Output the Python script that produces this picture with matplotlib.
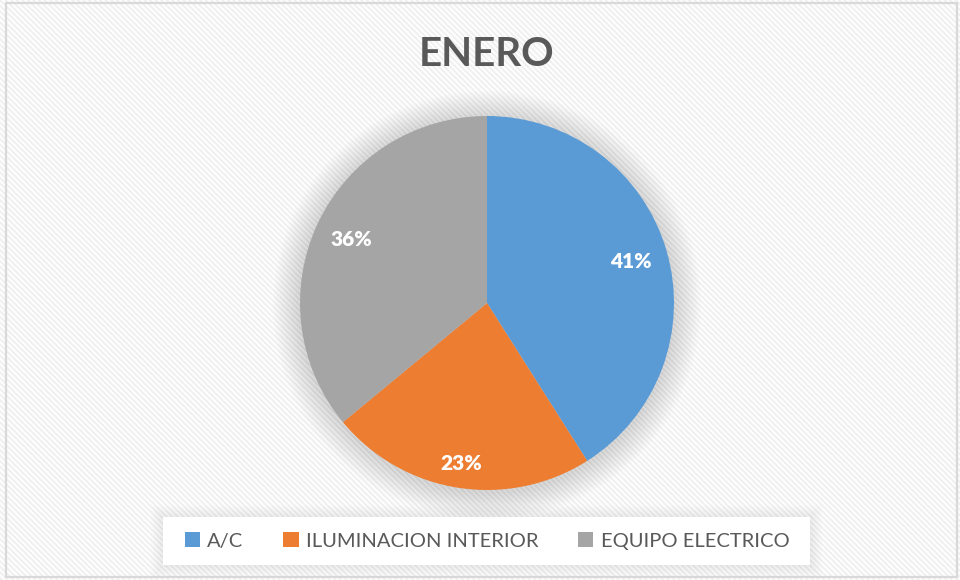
import matplotlib.pyplot as plt
import numpy as np
from matplotlib.patches import Patch, Rectangle, Circle

categories = ["A/C", "ILUMINACION INTERIOR", "EQUIPO ELECTRICO"]
values = [41, 23, 36]
colors = ["#5b9bd5", "#ed7d31", "#a5a5a5"]
title = "ENERO"

plt.rcParams['font.family'] = ['Lato', 'DejaVu Sans']
plt.rcParams['hatch.linewidth'] = 1.5

W, H = 960, 580
fig = plt.figure(figsize=(W / 100, H / 100), dpi=100)
fig.patch.set_facecolor('white')

# background stripes + frame
fig.patches.append(Rectangle((0, 0), 1, 1, transform=fig.transFigure,
                             facecolor='white', edgecolor='#f0f0f0', lw=0,
                             hatch='\\' * 6, zorder=-3))
fig.patches.append(Rectangle((6 / W, 1 - 577 / H), 951 / W, 574 / H, transform=fig.transFigure,
                             facecolor='none', edgecolor='#d9d9d9', lw=1.6, zorder=-2))

# legend box with soft shadow
lx0, ly0, lx1, ly1 = 163, 517, 810, 565
for k in range(8):
    pad = (8 - k) * 1.5
    fig.patches.append(Rectangle(((lx0 - pad) / W, 1 - (ly1 + pad) / H),
                                 (lx1 - lx0 + 2 * pad) / W, (ly1 - ly0 + 2 * pad) / H,
                                 transform=fig.transFigure, facecolor='black', alpha=0.008,
                                 edgecolor='none', zorder=-1))
fig.patches.append(Rectangle((lx0 / W, 1 - ly1 / H), (lx1 - lx0) / W, (ly1 - ly0) / H,
                             transform=fig.transFigure, facecolor='white',
                             edgecolor='none', zorder=-1))

# pie axes
cx, cy, r = 487, 303, 187
ax = fig.add_axes([(cx - r) / W, 1 - (cy + r) / H, 2 * r / W, 2 * r / H])

# soft shadow behind the pie
for k in range(12):
    ax.add_patch(Circle((0.0, -0.01), 1.0 + 0.012 * (12 - k), color='black',
                        alpha=0.012, lw=0, zorder=0, clip_on=False))

wedges, texts, autotexts = ax.pie(values, colors=colors, startangle=90, counterclock=False,
                                  radius=1, autopct='%d%%', pctdistance=0.8,
                                  wedgeprops=dict(linewidth=0))
for w, t, d in zip(wedges, autotexts, [0.80, 0.87, 0.80]):
    ang = np.deg2rad((w.theta1 + w.theta2) / 2)
    t.set_position((d * np.cos(ang), d * np.sin(ang)))
    t.set_color('white')
    t.set_fontsize(15)
    t.set_fontweight('heavy')
    t.set_zorder(5)

ax.set_xlim(-1, 1)
ax.set_ylim(-1, 1)
ax.set_aspect('equal')
ax.axis('off')

fig.text(487 / W, 1 - 54 / H, title, ha='center', va='center', fontsize=29,
         fontweight='bold', color='#595959')

# legend
handles = [Patch(facecolor=c, edgecolor='none') for c in colors]
leg = fig.legend(handles, categories, loc='center', bbox_to_anchor=(487 / W, 1 - 541 / H),
                 ncol=3, frameon=False, fontsize=14.5, handlelength=0.75, handleheight=0.75,
                 handletextpad=0.35, columnspacing=2.0, labelcolor='#595959')

fig.savefig('out.png', dpi=100)
